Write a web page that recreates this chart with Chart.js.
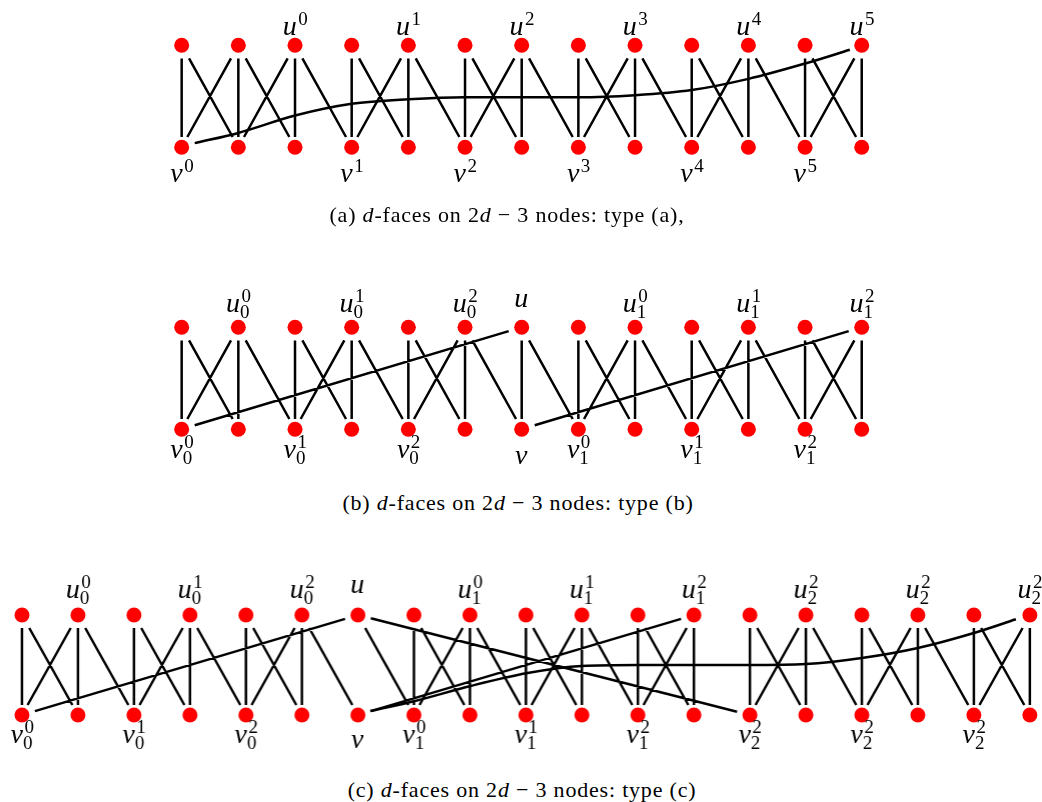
<!DOCTYPE html>
<html>
<head>
<meta charset="utf-8">
<script src="https://cdn.jsdelivr.net/npm/chart.js@4/dist/chart.umd.min.js"></script>
<style>
html, body { margin: 0; padding: 0; background: #fff; width: 1042px; height: 802px; overflow: hidden; }
body { position: relative; }
.panel { position: absolute; }
.caption { position: absolute; width: 600px; text-align: center; font-family: "Liberation Serif", serif; font-size: 22px; line-height: 22px; letter-spacing: 0.8px; color: #000; white-space: nowrap; }
</style>
</head>
<body>
<div class="panel" id="wrapA"><canvas id="chartA"></canvas></div>
<div class="panel" id="wrapB"><canvas id="chartB"></canvas></div>
<div class="panel" id="wrapC"><canvas id="chartC"></canvas></div>
<div class="caption" style="left:207px; top:204px;">(a) <i>d</i>-faces on 2<i>d</i> − 3 nodes: type (a),</div>
<div class="caption" style="left:218px; top:492px;">(b) <i>d</i>-faces on 2<i>d</i> − 3 nodes: type (b)</div>
<div class="caption" style="left:222px; top:779px;">(c) <i>d</i>-faces on 2<i>d</i> − 3 nodes: type (c)</div>
<script>
// rows: 1 = top (u nodes), 0 = bottom (v nodes); x = column index

// panel (a)
const aCols = 13;
const aVertical = [0, 1, 2, 3, 4, 5, 6, 7, 8, 9, 10, 11, 12];
const aDownRight = [0, 1, 2, 3, 4, 5, 6, 7, 8, 9, 10, 11];   // top i -> bottom i+1
const aDownLeft = [1, 2, 4, 6, 8, 10, 12];                   // top i -> bottom i-1
const aLong = [];
const aCurveX = [0.23, 1, 2, 3, 4, 5, 6, 7, 8, 9, 10, 11, 11.79];
const aCurveY = [0.04, 0.14, 0.31, 0.425, 0.47, 0.49, 0.49, 0.49, 0.51, 0.56, 0.67, 0.82, 0.955];
const aTopLabels = [[2, 'u', '0', ''], [4, 'u', '1', ''], [6, 'u', '2', ''], [8, 'u', '3', ''], [10, 'u', '4', ''], [12, 'u', '5', '']];
const aBottomLabels = [[0, 'v', '0', ''], [3, 'v', '1', ''], [5, 'v', '2', ''], [7, 'v', '3', ''], [9, 'v', '4', ''], [11, 'v', '5', '']];

// panel (b)
const bCols = 13;
const bVertical = [0, 1, 2, 3, 4, 5, 6, 7, 8, 9, 10, 11, 12];
const bDownRight = [0, 1, 2, 3, 4, 5, 6, 7, 8, 9, 10, 11];
const bDownLeft = [1, 3, 5, 8, 10, 12];
const bLong = [[0, 0, 6, 1], [6, 0, 12, 1]];
const bCurveX = [];
const bCurveY = [];
const bTopLabels = [[1, 'u', '0', '0'], [3, 'u', '1', '0'], [5, 'u', '2', '0'], [6, 'u', '', ''], [8, 'u', '0', '1'], [10, 'u', '1', '1'], [12, 'u', '2', '1']];
const bBottomLabels = [[0, 'v', '0', '0'], [2, 'v', '1', '0'], [4, 'v', '2', '0'], [6, 'v', '', ''], [7, 'v', '0', '1'], [9, 'v', '1', '1'], [11, 'v', '2', '1']];

// panel (c)
const cCols = 19;
const cVertical = [0, 1, 2, 3, 4, 5, 7, 8, 9, 10, 11, 12, 13, 14, 15, 16, 17, 18];
const cDownRight = [0, 1, 2, 3, 4, 5, 6, 7, 8, 9, 10, 11, 13, 14, 15, 16, 17];
const cDownLeft = [1, 3, 5, 8, 10, 12, 14, 16, 18];
const cLong = [[0, 0, 6, 1], [6, 1, 13, 0], [6, 0, 12, 1]];
const cCurveX = [6.22, 7.02, 8.01, 9.03, 10, 11, 12, 13, 14, 15, 16, 17, 17.75];
const cCurveY = [0.04, 0.14, 0.29, 0.42, 0.49, 0.5, 0.5, 0.5, 0.51, 0.57, 0.67, 0.82, 0.957];
const cTopLabels = [[1, 'u', '0', '0'], [3, 'u', '1', '0'], [5, 'u', '2', '0'], [6, 'u', '', ''], [8, 'u', '0', '1'], [10, 'u', '1', '1'], [12, 'u', '2', '1'], [14, 'u', '2', '2'], [16, 'u', '2', '2'], [18, 'u', '2', '2']];
const cBottomLabels = [[0, 'v', '0', '0'], [2, 'v', '1', '0'], [4, 'v', '2', '0'], [6, 'v', '', ''], [7, 'v', '0', '1'], [9, 'v', '1', '1'], [11, 'v', '2', '1'], [13, 'v', '2', '2'], [15, 'v', '2', '2'], [17, 'v', '2', '2']];

// edges stop at the node box: half width 0.23 col, 0.13 below a top node, 0.1 above a bottom node
function trimSeg(x1, y1, x2, y2) {
    const dx = x2 - x1, dy = y2 - y1;
    const tx = dx !== 0 ? 0.23 / Math.abs(dx) : Infinity;
    const t1 = Math.min(tx, (y1 === 1 ? 0.13 : 0.1) / Math.abs(dy));
    const t2 = Math.min(tx, (y2 === 1 ? 0.13 : 0.1) / Math.abs(dy));
    return [{ x: x1 + dx * t1, y: y1 + dy * t1 }, { x: x2 - dx * t2, y: y2 - dy * t2 }];
}

function labelPlugin(top, bottom, off) {
    return {
        id: 'nodeLabels',
        afterDatasetsDraw(chart) {
            const ctx = chart.ctx;
            const xs = chart.scales.x, ys = chart.scales.y;
            const mainFont = 'italic 28px "Liberation Serif"';
            const scriptFont = '19px "Liberation Serif"';
            ctx.save();
            ctx.fillStyle = '#000';
            ctx.textBaseline = 'alphabetic';
            const draw = (lab, row, offSub, offPlain) => {
                const [col, letter, sup, sub] = lab;
                const px = xs.getPixelForValue(col);
                const base = ys.getPixelForValue(row) + (sub ? offSub : offPlain);
                ctx.font = mainFont;
                const w1 = ctx.measureText(letter).width;
                ctx.font = scriptFont;
                const w2 = Math.max(ctx.measureText(sup).width, ctx.measureText(sub).width);
                const x0 = px - (w1 + w2 + 1) / 2;
                ctx.font = mainFont;
                ctx.fillText(letter, x0, base);
                ctx.font = scriptFont;
                if (sup) ctx.fillText(sup, x0 + w1 + 1.5, base - 10);
                if (sub) ctx.fillText(sub, x0 + w1, base + 6);
            };
            top.forEach(l => draw(l, 1, off.topSub, off.topPlain));
            bottom.forEach(l => draw(l, 0, off.botSub, off.botPlain));
            ctx.restore();
        }
    };
}

function buildPanel(wrapId, canvasId, p) {
    const wrap = document.getElementById(wrapId);
    wrap.style.left = (p.col0 - p.colW) + 'px';
    wrap.style.width = ((p.cols + 1) * p.colW) + 'px';
    wrap.style.top = (p.topY - 0.6 * p.rowH) + 'px';
    wrap.style.height = (2.2 * p.rowH) + 'px';

    const nodes = [];
    for (let i = 0; i < p.cols; i++) {
        nodes.push({ x: i, y: 1 });
        nodes.push({ x: i, y: 0 });
    }
    const segs = [];
    const add = (x1, y1, x2, y2) => {
        const s = trimSeg(x1, y1, x2, y2);
        segs.push(s[0], s[1], { x: s[1].x, y: null });
    };
    p.vertical.forEach(i => add(i, 1, i, 0));
    p.downRight.forEach(i => add(i, 1, i + 1, 0));
    p.downLeft.forEach(i => add(i, 1, i - 1, 0));
    p.long.forEach(e => add(e[0], e[1], e[2], e[3]));
    const curve = p.curveX.map((x, k) => ({ x: x, y: p.curveY[k] }));

    new Chart(document.getElementById(canvasId), {
        type: 'scatter',
        data: {
            datasets: [
                { data: nodes, pointRadius: 7.5, pointBackgroundColor: '#ff0000', pointBorderWidth: 0, showLine: false, clip: false },
                { data: segs, showLine: true, spanGaps: false, borderColor: '#000', borderWidth: 2.5, pointRadius: 0, clip: false },
                { data: curve, showLine: true, borderColor: '#000', borderWidth: 2.5, pointRadius: 0, cubicInterpolationMode: 'monotone', clip: false }
            ]
        },
        options: {
            responsive: true,
            maintainAspectRatio: false,
            animation: false,
            events: [],
            layout: { padding: 0, autoPadding: false },
            plugins: { legend: { display: false }, tooltip: { enabled: false } },
            scales: {
                x: { type: 'linear', min: -1, max: p.cols, display: false },
                y: { type: 'linear', min: -0.6, max: 1.6, display: false }
            }
        },
        plugins: [labelPlugin(p.top, p.bottom, p.off)]
    });
}

buildPanel('wrapA', 'chartA', {
    cols: aCols, vertical: aVertical, downRight: aDownRight, downLeft: aDownLeft, long: aLong,
    curveX: aCurveX, curveY: aCurveY, top: aTopLabels, bottom: aBottomLabels,
    col0: 181.7, colW: 56.67, topY: 45, rowH: 102,
    off: { topSub: -15, topPlain: -10, botSub: 29, botPlain: 35 }
});
buildPanel('wrapB', 'chartB', {
    cols: bCols, vertical: bVertical, downRight: bDownRight, downLeft: bDownLeft, long: bLong,
    curveX: bCurveX, curveY: bCurveY, top: bTopLabels, bottom: bBottomLabels,
    col0: 181.7, colW: 56.67, topY: 327, rowH: 102,
    off: { topSub: -15, topPlain: -20, botSub: 29, botPlain: 35 }
});
buildPanel('wrapC', 'chartC', {
    cols: cCols, vertical: cVertical, downRight: cDownRight, downLeft: cDownLeft, long: cLong,
    curveX: cCurveX, curveY: cCurveY, top: cTopLabels, bottom: cBottomLabels,
    col0: 22, colW: 55.94, topY: 615, rowH: 100,
    off: { topSub: -17, topPlain: -22, botSub: 28, botPlain: 33 }
});
</script>
</body>
</html>
